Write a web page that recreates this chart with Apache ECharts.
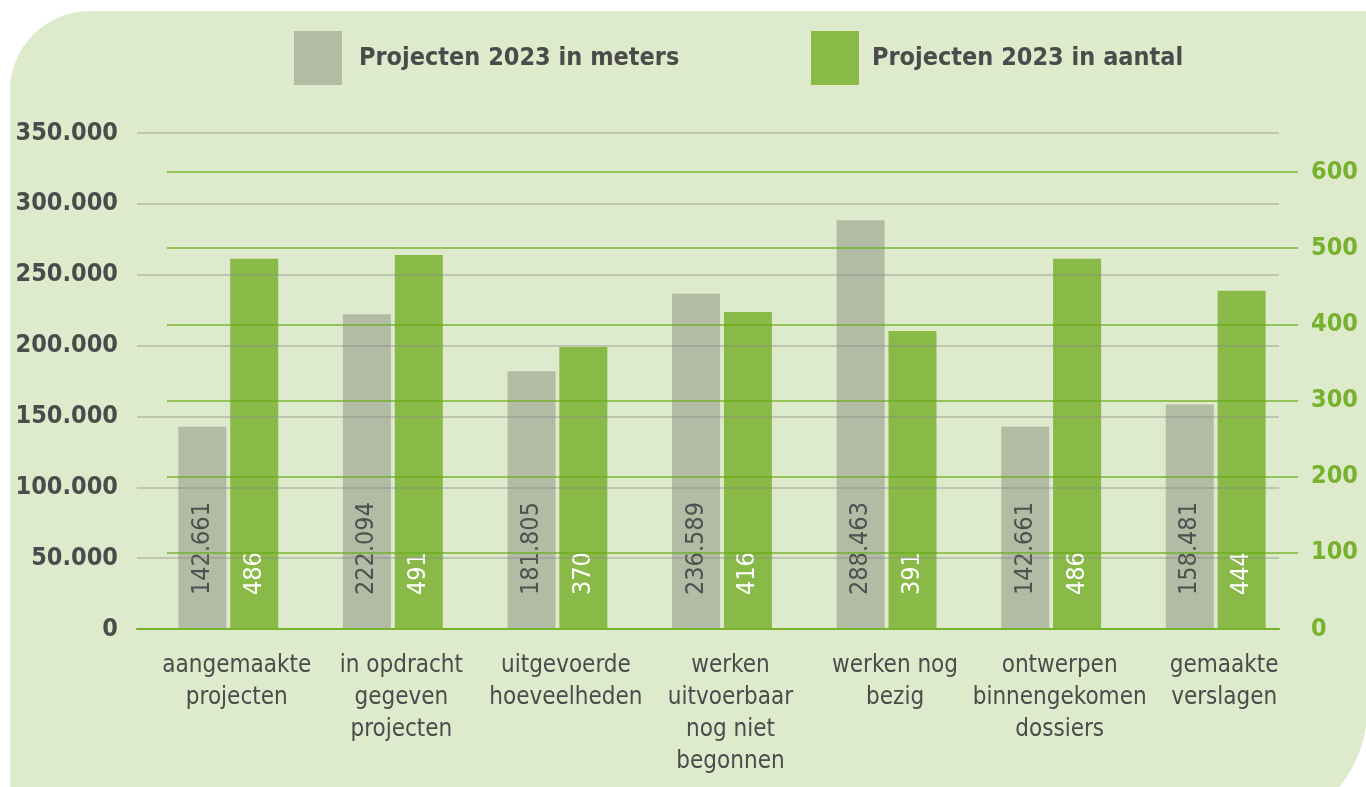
<!DOCTYPE html>
<html>
<head>
<meta charset="utf-8">
<title>Projecten 2023</title>
<script src="https://cdn.jsdelivr.net/npm/echarts@6/dist/echarts.min.js"></script>
<style>
  html, body { margin: 0; padding: 0; background: #ffffff; }
  #main { width: 1366px; height: 787px; }
</style>
</head>
<body>
<div id="main"></div>
<script>
// categories and values
const categories = [
    'aangemaakte\nprojecten',
    'in opdracht\ngegeven\nprojecten',
    'uitgevoerde\nhoeveelheden',
    'werken\nuitvoerbaar\nnog niet\nbegonnen',
    'werken nog\nbezig',
    'ontwerpen\nbinnengekomen\ndossiers',
    'gemaakte\nverslagen'
];
const meters = [142661, 222094, 181805, 236589, 288463, 142661, 158481];
const aantal = [486, 491, 370, 416, 391, 486, 444];

const metersName = 'Projecten 2023 in meters';
const aantalName = 'Projecten 2023 in aantal';

const GRAY = '#b2bca4';
const GREEN = '#89b947';
const TEXT = '#4b4b4b';
const AXIS_GREEN = '#79b22e';

function dots(v) {
    return String(Math.round(v)).replace(/\B(?=(\d{3})+(?!\d))/g, '.');
}

const boldFont = "'DejaVu Sans Condensed', 'DejaVu Sans', sans-serif";
const lightFont = "'DejaVu Sans Condensed', 'DejaVu Sans', sans-serif";

const myChart = echarts.init(document.getElementById('main'));

const option = {
    animation: false,
    graphic: [{
        type: 'rect',
        z: -10,
        silent: true,
        shape: { x: 10, y: 11, width: 1357, height: 819, r: [80, 0, 120, 0] },
        style: { fill: '#ddeacb' }
    }],
    legend: [{
        data: [metersName],
        left: 289,
        top: 26,
        icon: 'rect',
        itemWidth: 48,
        itemHeight: 54,
        selectedMode: false,
        textStyle: {
            color: TEXT, fontFamily: boldFont, fontWeight: 'bold', fontSize: 25,
            padding: [6, 0, 0, 12]
        }
    }, {
        data: [aantalName],
        left: 806,
        top: 26,
        icon: 'rect',
        itemWidth: 48,
        itemHeight: 54,
        selectedMode: false,
        textStyle: {
            color: TEXT, fontFamily: boldFont, fontWeight: 'bold', fontSize: 25,
            padding: [0, 0, 5, 8]
        }
    }],
    grid: [
        // bars
        { left: 146, right: 68, top: 133, bottom: 158 },
        // gray split lines + left labels
        { left: 137, right: 87, top: 133, bottom: 158 },
        // green split lines + right labels
        { left: 167, right: 68, top: 172, bottom: 158 }
    ],
    xAxis: [{
        gridIndex: 0,
        type: 'category',
        data: categories,
        axisLine: { show: false },
        axisTick: { show: false },
        axisLabel: {
            interval: 0,
            margin: 21,
            color: TEXT,
            fontFamily: "'DejaVu Sans Condensed', sans-serif",
            fontSize: 24,
            lineHeight: 32,
            padding: [0, 0, 0, 17]
        }
    }, {
        gridIndex: 1,
        type: 'value',
        min: 0,
        max: 1,
        z: 5,
        axisLine: { show: true, lineStyle: { color: AXIS_GREEN, width: 2 } },
        axisTick: { show: false },
        axisLabel: { show: false },
        splitLine: { show: false }
    }, {
        gridIndex: 2,
        type: 'value',
        show: false
    }],
    yAxis: [{
        gridIndex: 0,
        type: 'value',
        min: 0,
        max: 350000,
        show: false
    }, {
        gridIndex: 0,
        type: 'value',
        min: 0,
        max: 651,
        show: false
    }, {
        gridIndex: 1,
        type: 'value',
        min: 0,
        max: 350000,
        interval: 50000,
        z: 5,
        axisLine: { show: false },
        axisTick: { show: false },
        axisLabel: {
            margin: 19,
            color: TEXT,
            fontFamily: boldFont,
            fontWeight: 'bold',
            fontSize: 25,
            formatter: dots
        },
        splitLine: {
            lineStyle: {
                width: 1.5,
                color: ['rgba(0,0,0,0)'].concat(new Array(7).fill('rgba(140,140,140,0.5)'))
            }
        }
    }, {
        gridIndex: 2,
        type: 'value',
        position: 'right',
        min: 0,
        max: 600,
        interval: 100,
        z: 5,
        axisLine: { show: false },
        axisTick: { show: false },
        axisLabel: {
            margin: 13,
            color: AXIS_GREEN,
            fontFamily: boldFont,
            fontWeight: 'bold',
            fontSize: 25
        },
        splitLine: {
            lineStyle: {
                width: 1.5,
                color: ['rgba(0,0,0,0)'].concat(new Array(6).fill('rgba(105,172,25,0.85)'))
            }
        }
    }],
    series: [{
        name: metersName,
        type: 'bar',
        xAxisIndex: 0,
        yAxisIndex: 0,
        data: meters,
        barWidth: 48,
        barGap: '8%',
        itemStyle: { color: GRAY },
        label: {
            show: true,
            position: 'insideBottom',
            distance: 34,
            rotate: 90,
            align: 'left',
            verticalAlign: 'middle',
            color: '#505050',
            fontFamily: lightFont,
            fontSize: 25,
            formatter: p => dots(p.value)
        }
    }, {
        name: aantalName,
        type: 'bar',
        xAxisIndex: 0,
        yAxisIndex: 1,
        data: aantal,
        barWidth: 48,
        barGap: '8%',
        itemStyle: { color: GREEN },
        label: {
            show: true,
            position: 'insideBottom',
            distance: 34,
            rotate: 90,
            align: 'left',
            verticalAlign: 'middle',
            color: '#ffffff',
            fontFamily: lightFont,
            fontSize: 25
        }
    }]
};

myChart.setOption(option);
</script>
</body>
</html>
